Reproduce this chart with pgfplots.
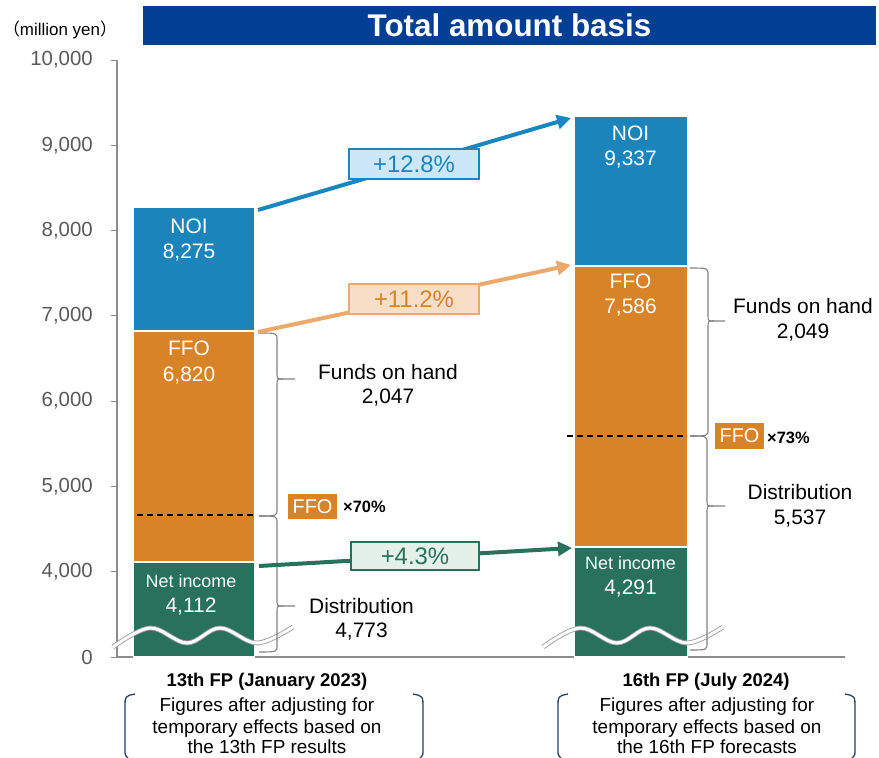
\documentclass[border=0pt]{standalone}
\usepackage{pgfplots}
\pgfplotsset{compat=1.18}
\usepackage{fontspec}
\setmainfont{Liberation Sans}
\newfontfamily\cjk{Noto Sans CJK JP}
\usetikzlibrary{arrows.meta}
\definecolor{noiblue}{HTML}{1B85BB}
\definecolor{ffoorange}{HTML}{D88328}
\definecolor{nigreen}{HTML}{28715B}
\definecolor{arrowblue}{HTML}{1A86BF}
\definecolor{arroworange}{HTML}{EBAA6B}
\definecolor{boxblue}{HTML}{CCE8F8}
\definecolor{boxorange}{HTML}{F8DEC7}
\definecolor{boxgreen}{HTML}{E4F1EA}
\definecolor{titleblue}{HTML}{003F94}
\definecolor{axgray}{HTML}{8C8C8C}
\definecolor{tickgray}{HTML}{595959}
\definecolor{bracegray}{HTML}{7F7F7F}
\definecolor{navy}{HTML}{1F3F66}
\newcommand{\fs}[1]{\fontsize{#1}{#1}\selectfont}
% brace: xend, xvert, xtip, ytop, ytip, ybottom
\newcommand{\brc}[6]{%
  \draw[bracegray, line width=1.1bp] (#1,#4) .. controls (#2,#4) .. (#2,{#4+7}) -- (#2,{#5-6}) .. controls (#2,#5) .. ({#2+6},#5) -- (#3,#5);
  \draw[bracegray, line width=1.1bp] ({#2+6},#5) .. controls (#2,#5) .. (#2,{#5+6}) -- (#2,{#6-7}) .. controls (#2,#6) .. (#1,#6);}
\begin{document}
\begin{tikzpicture}
\useasboundingbox (0bp,0bp) rectangle (879bp,-758bp);
\begin{axis}[
  at={(117bp,-657bp)}, anchor=south west,
  width=728bp, height=597bp, scale only axis,
  xmin=-0.17620, xmax=1.48970, ymin=3000, ymax=10000,
  axis x line*=bottom, axis y line*=left,
  axis line style={-, draw=axgray, line width=1.4bp},
  xtick=\empty,
  ytick={3000,4000,5000,6000,7000,8000,9000,10000},
  yticklabels={0,{4,000},{5,000},{6,000},{7,000},{8,000},{9,000},{10,000}},
  scaled y ticks=false,
  tick style={draw=axgray, line width=1bp},
  major tick length=6bp, tick align=outside,
  yticklabel style={font=\fs{20.5}, text=tickgray, inner sep=0pt, xshift=-18bp},
  /pgf/number format/assume math mode=true,
  clip mode=individual,
]
% 13th FP
\addplot[ybar, bar width=0.2769, bar shift=0pt, fill=noiblue, draw=white, line width=1.5bp] coordinates {(0,8275)};
\addplot[ybar, bar width=0.2769, bar shift=0pt, fill=ffoorange, draw=white, line width=1.5bp] coordinates {(0,6820)};
\addplot[ybar, bar width=0.2769, bar shift=0pt, fill=nigreen, draw=white, line width=1.5bp] coordinates {(0,4112)};
% 16th FP
\addplot[ybar, bar width=0.2586, bar shift=0pt, fill=noiblue, draw=white, line width=1.5bp] coordinates {(1,9337)};
\addplot[ybar, bar width=0.2586, bar shift=0pt, fill=ffoorange, draw=white, line width=1.5bp] coordinates {(1,7586)};
\addplot[ybar, bar width=0.2586, bar shift=0pt, fill=nigreen, draw=white, line width=1.5bp] coordinates {(1,4291)};
% distribution levels
\addplot[black, line width=1.5bp, dash pattern=on 6bp off 4bp] coordinates {(-0.1304,4665) (0.1442,4665)};
\addplot[black, line width=1.5bp, dash pattern=on 6bp off 4bp] coordinates {(0.8535,5590) (1.1281,5590)};
\end{axis}
\begin{scope}[x=1bp,y=-1bp]
% title
\fill[titleblue] (143,6) rectangle (876,45);
\node[text=white, font=\bfseries\fs{31.5}] at (509.5,25.5) {Total amount basis};
\node[font=\fs{17}, anchor=base] at (60,35) {{\cjk （}million yen{\cjk ）}};
% axis breaks
\draw[draw=gray!75, double=white, double distance=3bp, line width=0.9bp] plot[smooth, tension=0.6] coordinates {(113,647) (150,628) (187,643) (220,628) (257,643) (293,627)};
\draw[draw=gray!75, double=white, double distance=3bp, line width=0.9bp] plot[smooth, tension=0.6] coordinates {(543,647) (580,628) (617,643) (650,628) (687,643) (723,627)};
% braces
\brc{259}{277}{295}{333}{379}{516}
\brc{259}{277}{295}{516}{606}{652}
\brc{690}{708}{725}{268}{321}{436}
\brc{690}{707}{725}{436}{506}{650}
% bar labels
\begin{scope}[every node/.style={text=white, anchor=base}]
\node[font=\fs{21}] at (189,233) {NOI};
\node[font=\fs{21}] at (189,258) {8,275};
\node[font=\fs{21}] at (189,355) {FFO};
\node[font=\fs{21}] at (189,381) {6,820};
\node[font=\fs{18}] at (191,587) {Net income};
\node[font=\fs{21}] at (191,612) {4,112};
\node[font=\fs{21}] at (630.5,140) {NOI};
\node[font=\fs{21}] at (630.5,165) {9,337};
\node[font=\fs{21}] at (630.5,288) {FFO};
\node[font=\fs{21}] at (630.5,313) {7,586};
\node[font=\fs{18}] at (630.5,569) {Net income};
\node[font=\fs{21}] at (630.5,594) {4,291};
\end{scope}
% side texts
\begin{scope}[every node/.style={anchor=base, font=\fs{21}}]
\node at (388,379) {Funds on hand};
\node at (388,403) {2,047};
\node at (361.5,613) {Distribution};
\node at (361.5,637) {4,773};
\node at (803,313) {Funds on hand};
\node at (803,338) {2,049};
\node at (800,499) {Distribution};
\node at (800,524) {5,537};
\end{scope}
% FFO tags
\fill[ffoorange] (288,494) rectangle (337,519);
\node[text=white, font=\fs{20}] at (312.5,506.5) {FFO};
\node[anchor=base west, inner sep=0pt, font=\bfseries\fs{16.5}] at (343,512) {×70\%};
\fill[ffoorange] (715,423) rectangle (764,449);
\node[text=white, font=\fs{20}] at (739.5,436) {FFO};
\node[anchor=base west, inner sep=0pt, font=\bfseries\fs{16.5}] at (767,443) {×73\%};
% arrows
\draw[arrowblue, line width=4bp, -{Triangle[length=14bp,width=14bp]}] (258,210) -- (571,118);
\draw[arroworange, line width=4bp, -{Triangle[length=14bp,width=14bp]}] (258,332) -- (571,265);
\draw[nigreen, line width=4bp, -{Triangle[length=14bp,width=14bp]}] (259,566) -- (572,548);
\node[draw=arrowblue, fill=boxblue, line width=1.8bp, minimum width=130bp, minimum height=30bp, inner sep=0pt, text=arrowblue, font=\fs{24}] at (414,164) {+12.8\%};
\node[draw=arroworange, fill=boxorange, line width=1.8bp, minimum width=130bp, minimum height=30bp, inner sep=0pt, text=ffoorange, font=\fs{24}] at (414,299) {+11.2\%};
\node[draw=nigreen, fill=boxgreen, line width=1.8bp, minimum width=128bp, minimum height=28bp, inner sep=0pt, text=nigreen, font=\fs{24}] at (415,556) {+4.3\%};
% bottom labels
\node[anchor=base, font=\bfseries\fs{18.5}] at (267,686) {13th FP (January 2023)};
\node[anchor=base, font=\fs{19}] at (267,711.5) {Figures after adjusting for};
\node[anchor=base, font=\fs{19}] at (267,733) {temporary effects based on};
\node[anchor=base, font=\fs{19}] at (267,753.5) {the 13th FP results};
\node[anchor=base, font=\bfseries\fs{18.5}] at (706,686) {16th FP (July 2024)};
\node[anchor=base, font=\fs{19}] at (707,711.5) {Figures after adjusting for};
\node[anchor=base, font=\fs{19}] at (707,733) {temporary effects based on};
\node[anchor=base, font=\fs{19}] at (707,753.5) {the 16th FP forecasts};
% brackets
\draw[navy, line width=1.3bp] (135,694) .. controls (125,696) .. (125,708) -- (125,750) .. controls (125,755) .. (128,758);
\draw[navy, line width=1.3bp] (413,694) .. controls (423,696) .. (423,708) -- (423,750) .. controls (423,755) .. (420,758);
\draw[navy, line width=1.3bp] (568,694) .. controls (558,696) .. (558,708) -- (558,750) .. controls (558,755) .. (561,758);
\draw[navy, line width=1.3bp] (845,694) .. controls (855,696) .. (855,708) -- (855,750) .. controls (855,755) .. (852,758);
\end{scope}
\end{tikzpicture}
\end{document}
